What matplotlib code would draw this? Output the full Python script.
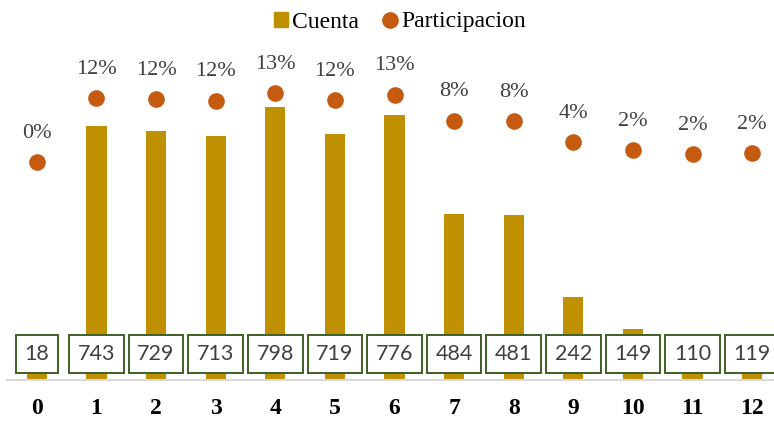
import matplotlib
matplotlib.use('Agg')
import matplotlib.pyplot as plt
from matplotlib.lines import Line2D
from matplotlib.patches import Patch

# Data
categorias = ['0', '1', '2', '3', '4', '5', '6', '7', '8', '9', '10', '11', '12']
cuenta = [18, 743, 729, 713, 798, 719, 776, 484, 481, 242, 149, 110, 119]
participacion = [0.003, 0.122, 0.120, 0.117, 0.131, 0.118, 0.128,
                 0.080, 0.079, 0.040, 0.025, 0.018, 0.020]

bar_color = '#BF9000'
dot_color = '#C55A11'

plt.rcParams['font.family'] = ['Liberation Serif', 'DejaVu Serif']

fig = plt.figure(figsize=(7.74, 4.21), dpi=100)
ax = fig.add_axes([7 / 774, 41 / 421, 775 / 774, 340 / 421])
ax2 = ax.twinx()

x = list(range(len(categorias)))

# Bars
ax.bar(x, cuenta, width=0.34, color=bar_color, zorder=2)
ax.set_ylim(0, 994)
ax.set_xlim(-0.5, 12.5)

# Value boxes near the bottom
for xi, v in zip(x, cuenta):
    ax.annotate(str(v), xy=(xi, 0), xytext=(0, 26), textcoords='offset pixels',
                ha='center', va='center', fontsize=15.5, color='#404040',
                family=['Lato', 'DejaVu Sans'], zorder=5,
                bbox=dict(boxstyle='square,pad=0.4', fc='white', ec='#3F5F25', lw=1.4))

# Participation dots with % labels
ax2.scatter(x, participacion, s=120, color=dot_color, zorder=3)
ax2.set_ylim(-0.401, 0.230)
for xi, p in zip(x, participacion):
    ax2.annotate(f'{p * 100:.0f}%', xy=(xi, p), xytext=(0, 29), textcoords='offset pixels',
                 ha='center', va='center', fontsize=16, color='#404040')

for a in (ax, ax2):
    for s in ['top', 'left', 'right']:
        a.spines[s].set_visible(False)
    a.set_yticks([])
ax2.spines['bottom'].set_visible(False)
ax.spines['bottom'].set_color('#D9D9D9')
ax.spines['bottom'].set_linewidth(1.5)

ax.set_xticks(x)
ax.set_xticklabels(categorias, fontsize=17, fontweight='bold')
ax.tick_params(axis='x', length=0, pad=13)

# Legend
handles = [Patch(color=bar_color, label='Cuenta'),
           Line2D([], [], marker='o', linestyle='', markersize=11, color=dot_color,
                  label='Participacion')]
fig.legend(handles=handles, loc='center', bbox_to_anchor=(400 / 774, 1 - 22 / 421), ncol=2,
           frameon=False, fontsize=17, handlelength=0.6, handleheight=0.6,
           handletextpad=0.2, columnspacing=1.0, borderaxespad=0)

fig.savefig('out.png', dpi=100)
